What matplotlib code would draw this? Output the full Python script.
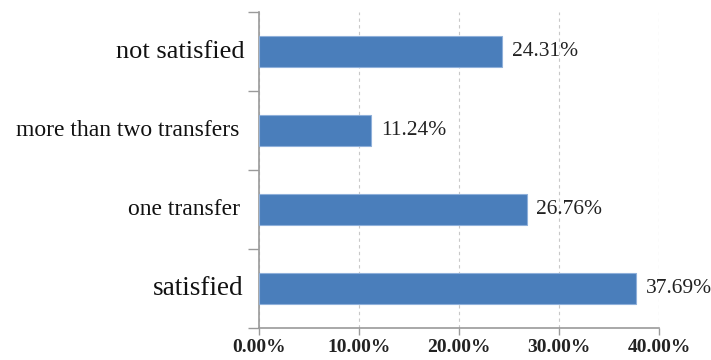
import matplotlib
matplotlib.use("Agg")
import matplotlib.pyplot as plt
from matplotlib.ticker import FuncFormatter

# Share of respondents per category (percent), bottom to top
categories = ["satisfied", "one transfer", "more than two transfers", "not satisfied"]
values = [37.69, 26.76, 11.24, 24.31]
label_sizes = [19.5, 17, 17, 19]
label_pads = [11, 14, 14, 10]
x_ticks = [0, 10, 20, 30, 40]

plt.rcParams["font.family"] = ["Liberation Serif", "DejaVu Serif"]

fig = plt.figure(figsize=(7.11, 3.6), dpi=100)
ax = fig.add_axes([259 / 711, 1 - 328 / 360, 400 / 711, 316 / 360])

positions = list(range(len(categories)))
ax.barh(positions, values, height=0.39, color="#4A7EBB",
        edgecolor="#8FB0DA", linewidth=0.8, zorder=3)

ax.set_xlim(0, 40)
ax.set_ylim(-0.5, len(categories) - 0.5)

# Gridlines on the value axis
ax.set_xticks(x_ticks)
ax.xaxis.set_major_formatter(FuncFormatter(lambda v, _: f"{v:.2f}%"))
ax.grid(axis="x", linestyle=(0, (3, 3)), color="#C8C8C8", linewidth=0.8, zorder=0)

# Category axis: labels between boundary ticks
ax.set_yticks(positions)
ax.set_yticklabels([])
ax.set_yticks([p - 0.5 for p in range(len(categories) + 1)], minor=True)
ax.tick_params(axis="y", which="major", length=0)
ax.tick_params(axis="y", which="minor", length=8, width=1, color="#9A9A9A")
for pos, name, size, pad in zip(positions, categories, label_sizes, label_pads):
    ax.annotate(name, xy=(0, pos), xycoords=("axes fraction", "data"),
                xytext=(-pad, 0), textcoords="offset points",
                ha="right", va="center", fontsize=size, color="#111111")

ax.tick_params(axis="x", length=5, width=1, color="#9A9A9A", pad=3,
               labelsize=14)
for lbl in ax.get_xticklabels():
    lbl.set_fontweight("bold")
    lbl.set_color("#222222")

for side in ("top", "right"):
    ax.spines[side].set_visible(False)
ax.spines["left"].set_color("#9A9A9A")
ax.spines["left"].set_linewidth(1.2)
ax.spines["bottom"].set_color("#9A9A9A")
ax.spines["bottom"].set_linewidth(1.2)

# Value labels to the right of each bar
for pos, val in zip(positions, values):
    ax.text(val + 0.95, pos, f"{val:.2f}%", va="center", ha="left",
            fontsize=15.5, color="#222222")

fig.savefig("out.png", dpi=100)
